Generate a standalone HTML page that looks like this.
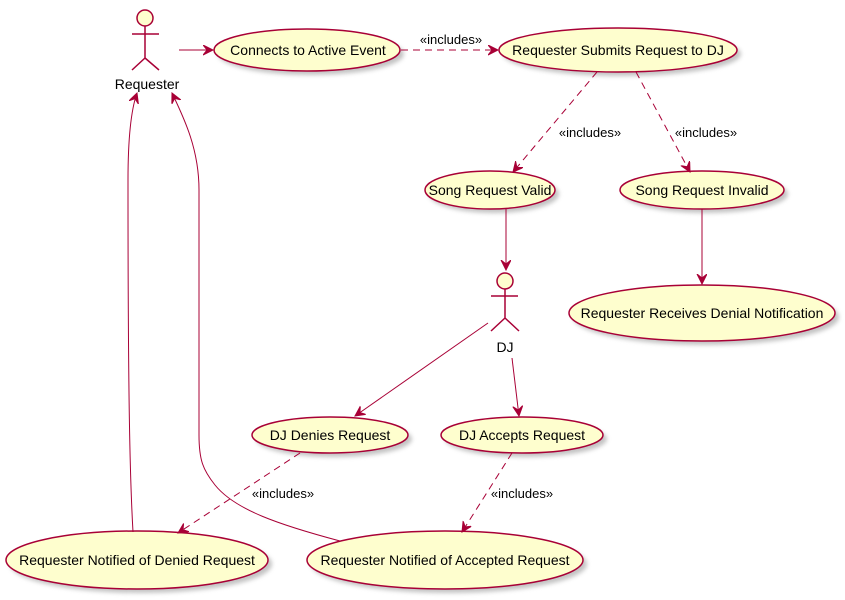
<!DOCTYPE html>
<html><head><meta charset="utf-8"><style>
html,body{margin:0;padding:0;background:#fff;}
svg{display:block;}
text{font-family:"Liberation Sans",sans-serif;}
</style></head><body>
<svg width="845" height="600" viewBox="0 0 845 600" xmlns="http://www.w3.org/2000/svg">
<defs>
<filter id="sh" x="-20%" y="-20%" width="150%" height="160%"><feGaussianBlur stdDeviation="2"/></filter>
<marker id="ar" markerWidth="12" markerHeight="12" refX="10" refY="5" orient="auto" markerUnits="userSpaceOnUse">
<path d="M0,0 L10,5 L0,10 L4,5 Z" fill="#A80036" stroke="#A80036" stroke-width="1"/>
</marker>
</defs>
<g fill="#888" opacity="0.5" filter="url(#sh)">
<ellipse cx="311" cy="54" rx="93" ry="21"/>
<ellipse cx="622" cy="54" rx="119" ry="22"/>
<ellipse cx="494" cy="194" rx="65" ry="19"/>
<ellipse cx="706" cy="194" rx="82" ry="19"/>
<ellipse cx="706" cy="317" rx="133" ry="28"/>
<ellipse cx="334" cy="439" rx="78" ry="18"/>
<ellipse cx="526" cy="439" rx="81" ry="18"/>
<ellipse cx="141" cy="564" rx="131" ry="29"/>
<ellipse cx="449" cy="564" rx="138" ry="29"/>
</g>
<g fill="#FEFECE" stroke="#A80036" stroke-width="1.5">
<ellipse cx="307" cy="50" rx="93" ry="21"/>
<ellipse cx="618" cy="50" rx="119" ry="22"/>
<ellipse cx="490" cy="190" rx="65" ry="19"/>
<ellipse cx="702" cy="190" rx="82" ry="19"/>
<ellipse cx="702" cy="313" rx="133" ry="28"/>
<ellipse cx="330" cy="435" rx="78" ry="18"/>
<ellipse cx="522" cy="435" rx="81" ry="18"/>
<ellipse cx="137" cy="560" rx="131" ry="29"/>
<ellipse cx="445" cy="560" rx="138" ry="29"/>
</g>
<g font-size="14" fill="#000" text-anchor="middle">
<text x="308" y="55">Connects to Active Event</text>
<text x="618" y="55">Requester Submits Request to DJ</text>
<text x="490" y="195">Song Request Valid</text>
<text x="702" y="195">Song Request Invalid</text>
<text x="702" y="318">Requester Receives Denial Notification</text>
<text x="330" y="440">DJ Denies Request</text>
<text x="522" y="440">DJ Accepts Request</text>
<text x="137" y="565">Requester Notified of Denied Request</text>
<text x="445" y="565">Requester Notified of Accepted Request</text>
<text x="147" y="89">Requester</text>
<text x="505" y="352">DJ</text>
</g>
<!-- actors -->
<g stroke="#A80036" stroke-width="1.5" fill="none">
<circle cx="145" cy="18" r="8" fill="#FEFECE"/>
<path d="M145,26 V58 M132,34 H159 M145,58 L132,70 M145,58 L159,70"/>
<circle cx="505" cy="281" r="8" fill="#FEFECE"/>
<path d="M505,289 V318 M491,296 H518 M505,318 L491,331 M505,318 L519,331"/>
</g>
<!-- connectors -->
<g stroke="#A80036" stroke-width="1" fill="none" marker-end="url(#ar)">
<path d="M179,50 L213,50"/>
<path d="M401,50 L498,50" stroke-dasharray="7,5"/>
<path d="M597,72 L513,172" stroke-dasharray="7,5"/>
<path d="M636,72 L690,172" stroke-dasharray="7,5"/>
<path d="M506,209 L506,270"/>
<path d="M702,209 L702,284"/>
<path d="M488,323 L355,416"/>
<path d="M512,358 L519,416"/>
<path d="M300,453 L178,533" stroke-dasharray="7,5"/>
<path d="M512,453 L462,532" stroke-dasharray="7,5"/>
<path d="M133,532 C130,480 128,400 128,180 C128,140 131,110 137,93"/>
<path d="M340,541 C280,525 235,510 215,485 C203,470 199,460 199,435 L199,190 C199,150 185,120 172,93"/>
</g>
<g font-size="13" fill="#000" text-anchor="middle">
<text x="451" y="44">«includes»</text>
<text x="590" y="137">«includes»</text>
<text x="706" y="137">«includes»</text>
<text x="283" y="498">«includes»</text>
<text x="522" y="498">«includes»</text>
</g>
</svg>
</body></html>
